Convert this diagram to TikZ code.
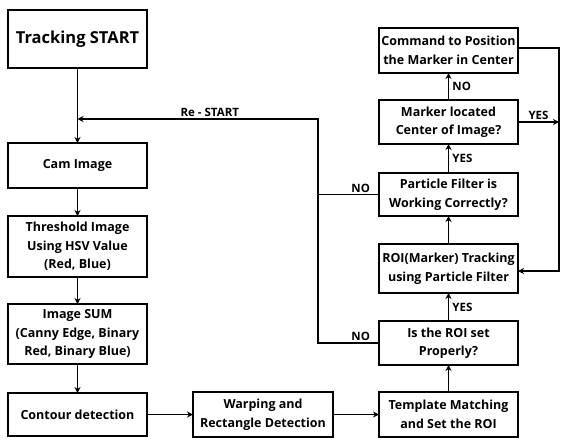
\documentclass[tikz,border=0pt]{standalone}
\usepackage{fontspec}
\setmainfont{Open Sans}
\usetikzlibrary{arrows.meta}
\begin{document}
\begin{tikzpicture}[x=1pt,y=-1pt,
  box/.style={draw,line width=1.8pt,align=center,inner sep=0pt,outer sep=0pt,
    minimum width=139pt,font=\fontsize{12.5}{18.5}\selectfont\bfseries},
  arr/.style={line width=1.8pt,-{Stealth[length=6pt,width=6pt]}},
  ln/.style={line width=1.8pt},
  lbl/.style={font=\fontsize{11.5}{12}\selectfont\bfseries,inner sep=1pt}]
\useasboundingbox (0,0) rectangle (561,440);
\node[box,minimum height=58pt,font=\fontsize{16.5}{18}\selectfont\bfseries] (start) at (77.5,39) {Tracking START};
\node[box,minimum height=45pt] (cam) at (77.5,165.5) {Cam Image};
\node[box,minimum height=61pt] (thresh) at (77.5,246.5) {Threshold Image\\Using HSV Value\\(Red, Blue)};
\node[box,minimum height=60pt] (sum) at (77.5,334) {Image SUM\\(Canny Edge, Binary\\Red, Binary Blue)};
\node[box,minimum height=43pt] (contour) at (77.5,414.5) {Contour detection};
\node[box,minimum height=45pt,minimum width=140pt] (warp) at (263,414.5) {Warping and\\Rectangle Detection};
\node[box,minimum height=45pt] (templ) at (448.5,414.5) {Template Matching\\and Set the ROI};
\node[box,minimum height=44pt] (roi) at (448.5,343) {Is the ROI set\\Properly?};
\node[box,minimum height=49pt] (track) at (448.5,268.5) {ROI(Marker) Tracking\\using Particle Filter};
\node[box,minimum height=43pt] (particle) at (448.5,194.5) {Particle Filter is\\Working Correctly?};
\node[box,minimum height=44pt] (marker) at (448.5,122) {Marker located\\Center of Image?};
\node[box,minimum height=45pt] (command) at (448.5,50.5) {Command to Position\\the Marker in Center};
\coordinate (rs) at (318,119);
\coordinate (j) at (77.5,119);
\coordinate (rt) at (559,48);
\draw[arr] (start) -- (cam);
\draw[arr] (cam) -- (thresh);
\draw[arr] (thresh) -- (sum);
\draw[arr] (sum) -- (contour);
\draw[arr] (contour) -- (warp);
\draw[arr] (warp) -- (templ);
\draw[arr] (templ) -- (roi);
\draw[arr] (roi) -- node[lbl,right=2pt] {YES} (track);
\draw[arr] (track) -- (particle);
\draw[arr] (particle) -- node[lbl,right=2pt] {YES} (marker);
\draw[arr] (marker) -- node[lbl,right=2pt] {NO} (command);
\draw[arr] (roi.west) -- node[lbl,above,pos=0.3] {NO} (roi.west -| rs) -- (rs) -- node[lbl,above,pos=0.45] {Re - START} (j);
\draw[ln] (particle.west) -- node[lbl,above,pos=0.3] {NO} (particle.west -| rs);
\draw[arr] (marker.east) -- node[lbl,above] {YES} (marker.east -| rt);
\draw[arr] (command.east |- rt) -- (rt) -- (rt |- 0,271) -- (track.east |- 0,271);
\end{tikzpicture}
\end{document}
